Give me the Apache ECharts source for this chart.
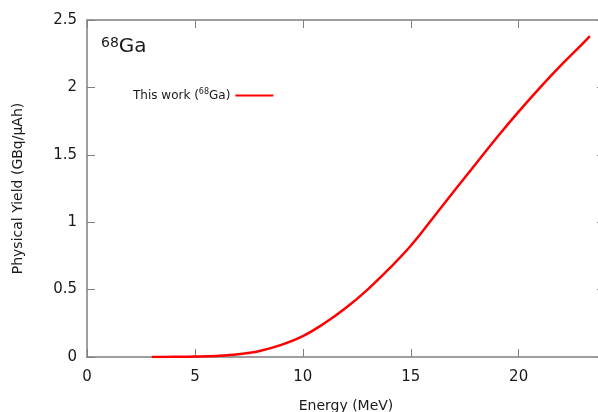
<!DOCTYPE html>
<html>
<head>
<meta charset="utf-8">
<script src="https://cdn.jsdelivr.net/npm/echarts@6/dist/echarts.min.js"></script>
<style>
  html, body { margin: 0; padding: 0; background: #fff; }
</style>
</head>
<body>
<div id="chart" style="width: 598px; height: 412px"></div>
<script>
// energy (MeV) and physical yield (GBq/uAh)
const energy = [3, 4, 5, 6, 7, 8, 9, 10, 11, 12, 13, 14, 15, 16, 17, 18, 19, 20, 21, 22, 23, 23.3];
const yieldGBq = [0, 0.001, 0.003, 0.008, 0.02, 0.045, 0.09, 0.155, 0.25, 0.365, 0.5, 0.655, 0.825, 1.025, 1.23, 1.43, 1.63, 1.82, 2.0, 2.17, 2.33, 2.38];
const xTicks = [0, 5, 10, 15, 20];
const yTicks = [0, 0.5, 1, 1.5, 2, 2.5];

const font = 'DejaVu Sans';
const axisGray = '#7f7f7f';
const textCol = '#1a1a1a';

const chart = echarts.init(document.getElementById('chart'));

const points = energy.map((e, i) => [e, yieldGBq[i]]);

// shared axis look: gray frame, inward ticks
function frameAxis(extra) {
  return Object.assign({
    axisLine: { show: true, onZero: false, lineStyle: { color: axisGray, width: 1.5 } },
    axisTick: { show: true, inside: true, length: 8, lineStyle: { color: axisGray, width: 1 } },
    splitLine: { show: false }
  }, extra);
}

chart.setOption({
  animation: false,
  backgroundColor: '#fff',
  grid: { left: 87, top: 20, right: -7, bottom: 55, outerBoundsMode: 'none' },
  title: {
    text: '{n|68}{g|Ga}',
    left: 96, top: 31,
    textStyle: {
      fontWeight: 'normal',
      rich: {
        n: { fontFamily: font, fontSize: 14, color: textCol, fontWeight: 'normal', padding: [0, 0, 8, 0] },
        g: { fontFamily: font, fontSize: 20, color: textCol, fontWeight: 'normal' }
      }
    }
  },
  legend: {
    left: 128, top: 83,
    align: 'right',
    itemWidth: 38, itemHeight: 2,
    itemGap: 6,
    icon: 'rect',
    formatter: () => '{a|This work (}{s|68}{a|Ga)}',
    textStyle: {
      rich: {
        a: { fontFamily: font, fontSize: 12, color: textCol },
        s: { fontFamily: font, fontSize: 8, color: textCol, padding: [0, 0, 7, 0] }
      }
    },
    data: ['This work']
  },
  xAxis: [
    frameAxis({
      type: 'value', min: 0, max: 24, interval: 5,
      name: 'Energy (MeV)',
      nameLocation: 'middle', nameGap: 42,
      nameTextStyle: { fontFamily: font, fontSize: 14, color: textCol },
      axisLabel: {
        fontFamily: font, fontSize: 15, color: textCol, margin: 13,
        formatter: v => xTicks.includes(v) ? String(v) : ''
      }
    }),
    frameAxis({
      type: 'value', min: 0, max: 24, interval: 5, position: 'top',
      axisLabel: { show: false }
    })
  ],
  yAxis: [
    frameAxis({
      type: 'value', min: 0, max: 2.5, interval: 0.5,
      name: 'Physical Yield (GBq/μAh)',
      nameLocation: 'middle', nameGap: 62, nameRotate: 90,
      nameTextStyle: { fontFamily: font, fontSize: 14, color: textCol },
      axisLabel: {
        fontFamily: font, fontSize: 15, color: textCol, margin: 10,
        formatter: v => yTicks.includes(v) ? String(v) : ''
      }
    }),
    frameAxis({
      type: 'value', min: 0, max: 2.5, interval: 0.5, position: 'right',
      axisLabel: { show: false }
    })
  ],
  series: [{
    name: 'This work',
    type: 'line',
    data: points,
    smooth: 0.4,
    showSymbol: false,
    color: '#ff0000',
    lineStyle: { color: '#ff0000', width: 2.5 }
  }]
});
</script>
</body>
</html>
